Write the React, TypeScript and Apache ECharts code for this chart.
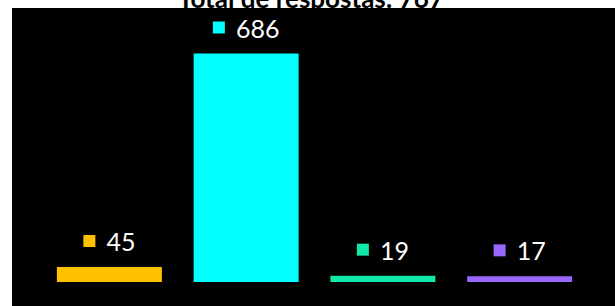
import React, { useEffect, useRef } from "react";
import * as echarts from "echarts";

const categories = ["A", "B", "C", "D"];
const values = [45, 686, 19, 17];
const colors = ["#FFC000", "#00FFFF", "#0FE8A8", "#9966FF"];
const titleText = "Total de respostas: 767";

export default function App() {
  const ref = useRef<HTMLDivElement>(null);
  useEffect(() => {
    if (!ref.current) return;
    const chart = echarts.init(ref.current, undefined, { renderer: "svg" });
    chart.setOption({
      animation: false,
      backgroundColor: "#ffffff",
      graphic: [
        {
          type: "rect",
          z: -10,
          silent: true,
          shape: { x: 12, y: 8, width: 603, height: 298 },
          style: { fill: "#000000" },
        },
        {
          type: "text",
          x: 311,
          y: 11,
          style: {
            text: titleText,
            fill: "#000000",
            font: "bold 26px Lato",
            align: "center",
            verticalAlign: "bottom",
          },
        },
      ],
      grid: { left: 41, top: 53.5, width: 547, height: 228.5 },
      xAxis: {
        type: "category",
        data: categories,
        axisLine: { show: false },
        axisTick: { show: false },
        axisLabel: { show: false },
        splitLine: { show: false },
      },
      yAxis: {
        type: "value",
        min: 0,
        max: "dataMax",
        show: false,
        splitLine: { show: false },
      },
      series: [
        {
          type: "bar",
          barWidth: 105,
          data: values.map((v, i) => ({
            value: v,
            itemStyle: { color: colors[i] },
            label: {
              rich: {
                sq: {
                  width: 12,
                  height: 12,
                  backgroundColor: colors[i],
                  verticalAlign: "middle",
                },
                v: {
                  color: "#ffffff",
                  fontSize: 25,
                  fontFamily: "Lato",
                  verticalAlign: "middle",
                  lineHeight: 26,
                  padding: [0, 0, 0, 11],
                },
              },
            },
          })),
          label: {
            show: true,
            position: "top",
            distance: 13,
            formatter: (p: any) => `{sq|}{v|${p.value}}`,
          },
        },
      ],
    });
    return () => chart.dispose();
  }, []);
  return (
    <div
      ref={ref}
      style={{ position: "fixed", left: 0, top: 0, width: 615, height: 306 }}
    />
  );
}
